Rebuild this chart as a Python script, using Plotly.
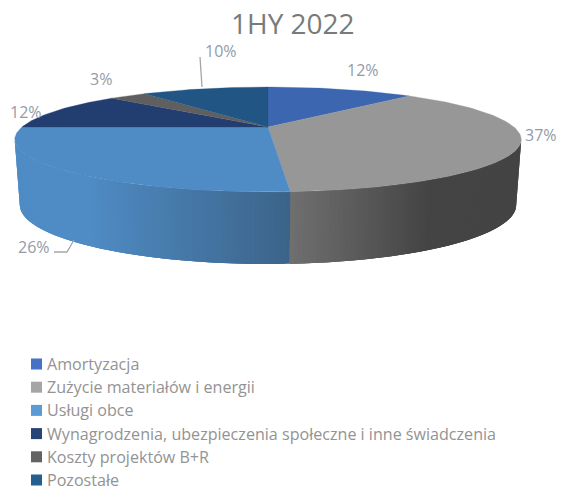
import math
import plotly.graph_objects as go

# ---- data ----
categories = ["Amortyzacja", "Zużycie materiałów i energii", "Usługi obce",
              "Wynagrodzenia, ubezpieczenia społeczne i inne świadczenia",
              "Koszty projektów B+R", "Pozostałe"]
values = [11.8, 37.1, 26.1, 11.8, 3.0, 10.2]
title = "1HY 2022"

# ---- styles ----
top_colors = ["#3c66b0", "#979797", "#4f8cc5", "#223d70", "#5f5f5f", "#215584"]
legend_colors = ["#4472c4", "#a5a5a5", "#5b9bd5", "#264478", "#636363", "#255e91"]
wall_stops = {1: [(291, "#6f6f6f"), (430, "#444444"), (530, "#444444")],
              2: [(10, "#4f8cc5"), (85, "#4f8cc5"), (291, "#3b6389")]}
label_xy = [(363, 70), (541, 135), (34, 247), (26, 112), (101, 79), (221, 51)]
leaders = [([200, 202], [57, 87]), ([54, 67, 74], [252, 252, 240])]

# ---- projection of the tilted disc ----
CX, CY, A, B, K = 268, 127, 246, 49.5, 0.238
CXB, CYB, AB, BB = 268, 191, 241, 55.6


def top_pt(t):
    z = -math.cos(t)
    d = 1 - K * z
    return CX + A * math.sin(t) / d, CY + B * z / d


def bot_pt(t):
    z = -math.cos(t)
    d = 1 - K * z
    return CXB + AB * math.sin(t) / d, CYB + BB * z / d


def hex2rgb(h):
    return tuple(int(h[i:i + 2], 16) for i in (1, 3, 5))


def grad(stops, x):
    if x <= stops[0][0]:
        return stops[0][1]
    for (x0, c0), (x1, c1) in zip(stops, stops[1:]):
        if x <= x1:
            f = (x - x0) / (x1 - x0)
            a, b = hex2rgb(c0), hex2rgb(c1)
            return "rgb(%d,%d,%d)" % tuple(round(p + (q - p) * f) for p, q in zip(a, b))
    return stops[-1][1]


total = sum(values)
edges = [0.0]
for v in values:
    edges.append(edges[-1] + v / total * 2 * math.pi)

fig = go.Figure()
wall_lo = math.acos(-K)
wall_hi = 2 * math.pi - wall_lo


def poly(xs, ys, color, lw):
    fig.add_trace(go.Scatter(x=xs + xs[:1], y=ys + ys[:1], mode="lines", fill="toself",
                             fillcolor=color, line=dict(color=color, width=lw),
                             hoverinfo="skip", showlegend=False))


# side wall: each strip overlaps the next one so no seams show
for i in wall_stops:
    a0, a1 = max(edges[i], wall_lo), min(edges[i + 1], wall_hi)
    n = 90
    step = (a1 - a0) / n
    for s in range(n):
        t0 = a0 + step * s
        t1 = min(a1, t0 + step * 3)
        m = [t0 + (t1 - t0) * j / 4 for j in range(5)]
        up = [top_pt(t) for t in m]
        dn = [bot_pt(t) for t in reversed(m)]
        xs = [q[0] for q in up + dn]
        ys = [q[1] for q in up + dn]
        poly(xs, ys, grad(wall_stops[i], top_pt(t0 + step / 2)[0]), 0)

# top face
for i in range(len(values)):
    n = max(4, int((edges[i + 1] - edges[i]) / 0.02))
    pts = [top_pt(edges[i] + (edges[i + 1] - edges[i]) * s / n) for s in range(n + 1)]
    poly([CX] + [q[0] for q in pts], [CY] + [q[1] for q in pts], top_colors[i], 0.3)

# leader lines
for lx, ly in leaders:
    fig.add_trace(go.Scatter(x=lx, y=ly, mode="lines", line=dict(color="#a6a6a6", width=1.3),
                             hoverinfo="skip", showlegend=False))

# legend
fig.add_trace(go.Scatter(
    x=[36.5] * len(categories), y=[364 + 23.2 * i for i in range(len(categories))],
    mode="markers", marker=dict(symbol="square", size=11, color=legend_colors),
    hoverinfo="skip", showlegend=False))
annotations = []
for i, c in enumerate(categories):
    annotations.append(dict(x=44.5, y=364 + 23.2 * i, text=c, showarrow=False, xanchor="left",
                            yanchor="middle", xref="x", yref="y",
                            font=dict(family="Open Sans", size=16.1, color="#939393")))
for v, (lx, ly) in zip(values, label_xy):
    annotations.append(dict(x=lx, y=ly, text="%d%%" % round(v / total * 100), showarrow=False,
                            xanchor="center", yanchor="middle", xref="x", yref="y",
                            font=dict(family="Open Sans", size=16, color="#939ba8")))
annotations.append(dict(x=292.5, y=23, text=title, showarrow=False, xanchor="center",
                        yanchor="middle", xref="x", yref="y",
                        font=dict(family="Open Sans", size=28, color="#7a7a7a")))

fig.update_layout(
    width=561, height=487, margin=dict(l=0, r=0, t=0, b=0),
    paper_bgcolor="white", plot_bgcolor="white", showlegend=False,
    xaxis=dict(range=[0, 561], visible=False, fixedrange=True),
    yaxis=dict(range=[487, 0], visible=False, fixedrange=True),
    annotations=annotations,
)
fig.write_html("out.html", config={"displayModeBar": False},
               post_script="document.body.style.margin='0';document.body.style.overflow='hidden';")
